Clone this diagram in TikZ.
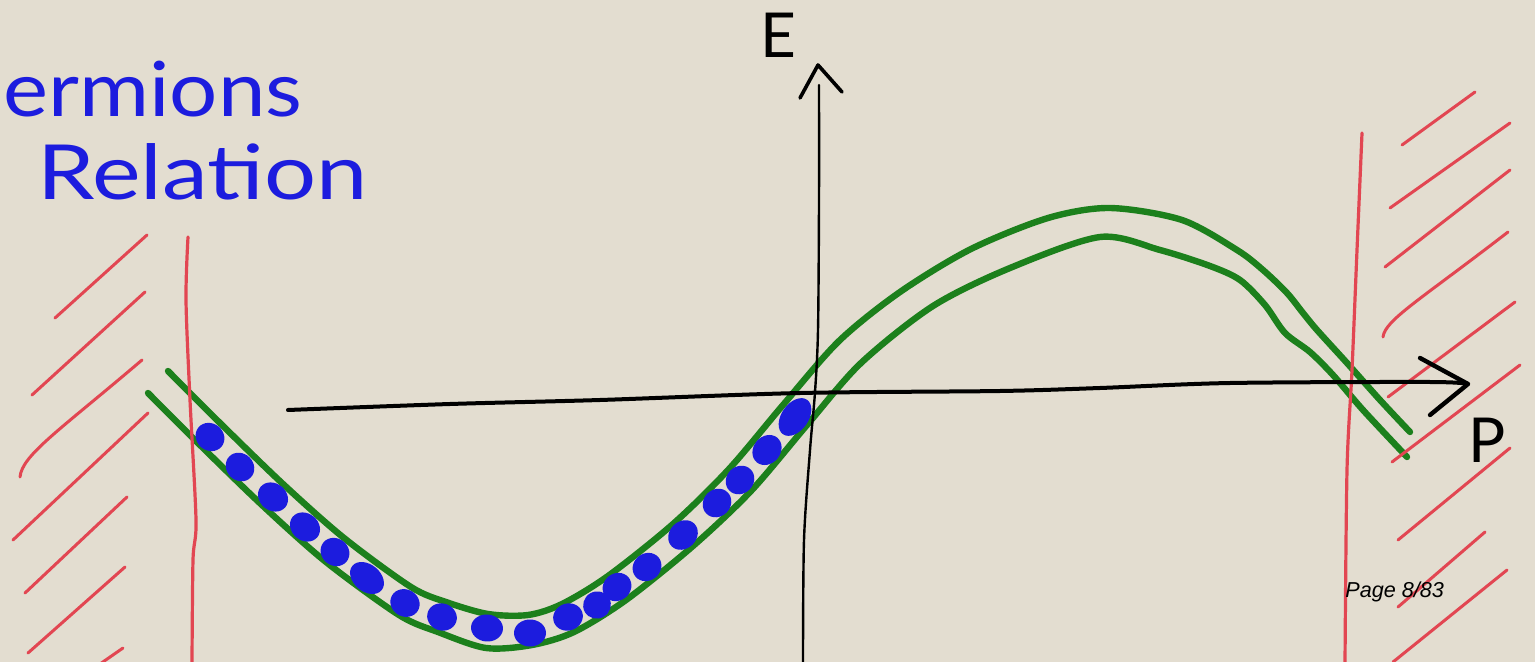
\documentclass[tikz,border=0pt]{standalone}
\usepackage{fontspec}
\setmainfont{Lato}
\newfontfamily\pagefont{Liberation Sans}
\usetikzlibrary{shapes.geometric}
\definecolor{bg}{RGB}{227,221,208}
\definecolor{ink}{RGB}{28,28,222}
\definecolor{grn}{RGB}{28,128,28}
\definecolor{rd}{RGB}{226,70,82}
\begin{document}
\begin{tikzpicture}[x=0.5pt,y=-0.5pt,
  greenline/.style={grn, line width=3.2pt, line cap=round, line join=round},
  hatch/.style={rd, line width=1.5pt, line cap=round},
  wall/.style={rd, line width=1.6pt, line cap=round},
  haxis/.style={black, line width=2pt, line cap=round},
  vaxis/.style={black, line width=1.2pt, line cap=round},
  tip/.style={black, line width=2.2pt, line cap=round, line join=round},
  dot/.style={ellipse, fill=ink, inner sep=0pt, minimum height=13.5pt},
  hand/.style={text=ink, inner sep=0pt, font=\fontsize{38}{40}\selectfont},
  lab/.style={text=black, inner sep=0pt, font=\fontsize{31}{34}\selectfont}]
\fill[bg] (0,0) rectangle (1535,662);
\useasboundingbox (0,0) rectangle (1535,662);

% title text
\node[hand, anchor=base west] (t1) at (3,117) {\scalebox{1.12}[1]{ermions}};
\node[hand, anchor=base west] (t2) at (37,200) {\scalebox{1.21}[1]{Relation}};

% green band (two curves)
\draw[greenline] plot[smooth, tension=0.5] coordinates {
 (168,371) (220,423) (283,484) (344,538) (411,587) (446,602) (488,614)
 (528,615) (562,604) (608,576) (673,524) (729,469) (783,405) (839,341)
 (900,292) (971,249) (1048,218) (1110,208) (1182,220) (1237,250) (1263,270)
 (1287,293) (1303,313) (1317,330) (1347,363) (1380,400) (1410,432)};
\draw[greenline] plot[smooth, tension=0.5] coordinates {
 (148,393) (200,445) (263,506) (326,562) (399,615) (438,632) (486,648)
 (532,645) (574,632) (626,600) (693,546) (751,491) (807,425) (861,363)
 (933,306) (1010,268) (1100,237) (1160,250) (1210,266) (1240,280)
 (1265,305) (1285,333) (1310,352) (1333,375) (1363,410) (1407,457)};

% red walls
\draw[wall] plot[smooth, tension=0.5] coordinates {(188,237) (186,300) (190,400) (196,520) (193,560) (192,662)};
\draw[wall] plot[smooth, tension=0.5] coordinates {(1362,133) (1357,250) (1352,370) (1347,470) (1345,662)};
% left hatches
\draw[hatch] (55,318) -- (147,235);
\draw[hatch] (32,395) -- (145,292);
\draw[hatch] (20,477) .. controls (22,455) and (60,430) .. (142,360);
\draw[hatch] (13,540) -- (148,413);
\draw[hatch] (25,593) -- (127,497);
\draw[hatch] (28,653) -- (125,567);
\draw[hatch] (100,664) -- (123,648);
% right hatches
\draw[hatch] (1402,145) -- (1475,92);
\draw[hatch] (1390,208) -- (1510,123);
\draw[hatch] (1385,267) -- (1510,170);
\draw[hatch] (1383,337) .. controls (1385,320) and (1420,300) .. (1508,232);
\draw[hatch] (1388,397) -- (1515,302);
\draw[hatch] (1392,462) -- (1520,365);
\draw[hatch] (1398,540) -- (1510,448);
\draw[hatch] (1398,607) -- (1485,532);
\draw[hatch] (1393,662) -- (1507,570);

% axes
\coordinate (pstart) at (288,410);
\coordinate (ptip) at (1468,384);
\coordinate (ebot) at (803,662);
\coordinate (etip) at (818,65);
\draw[haxis] plot[smooth, tension=0.5] coordinates {(pstart) (450,404) (600,400) (800,393) (1000,391) (1100,388) (1230,383) (1430,382) (ptip)};
\draw[tip] (1420,358) -- (ptip) -- (1430,415);
\draw[vaxis] plot[smooth, tension=0.5] coordinates {(ebot) (804,540) (810,450) (815,392) (818,330) (819,200) (819,85)};
\draw[tip, line width=1.8pt] (800,98) -- (etip) -- (842,92);
\node[lab, anchor=base west] (E) at (760,58) {E};
\node[lab, anchor=base west] (P) at (1468,462) {P};

% filled states
\foreach \x/\y/\a/\w [count=\i] in {
 210/437/-40/15, 240/467/-45/15, 273/497/-40/16, 305/527/-40/16, 335/552/-40/15,
 367/578/-40/19, 405/603/-30/15, 442/617/-20/15, 487/628/-5/16, 530/633/0/16,
 568/617/20/15, 597/605/30/14, 617/587/40/15, 647/567/40/15, 683/535/45/16,
 717/503/45/15, 740/480/45/15, 767/450/50/16, 795/417/55/21}
 \node[dot, minimum width=\w pt, rotate=\a] (d\i) at (\x,\y) {};

\node[anchor=base west, inner sep=0pt, font=\pagefont\itshape\fontsize{10.8}{12}\selectfont] (pg) at (1345,597) {Page 8/83};
\end{tikzpicture}
\end{document}
